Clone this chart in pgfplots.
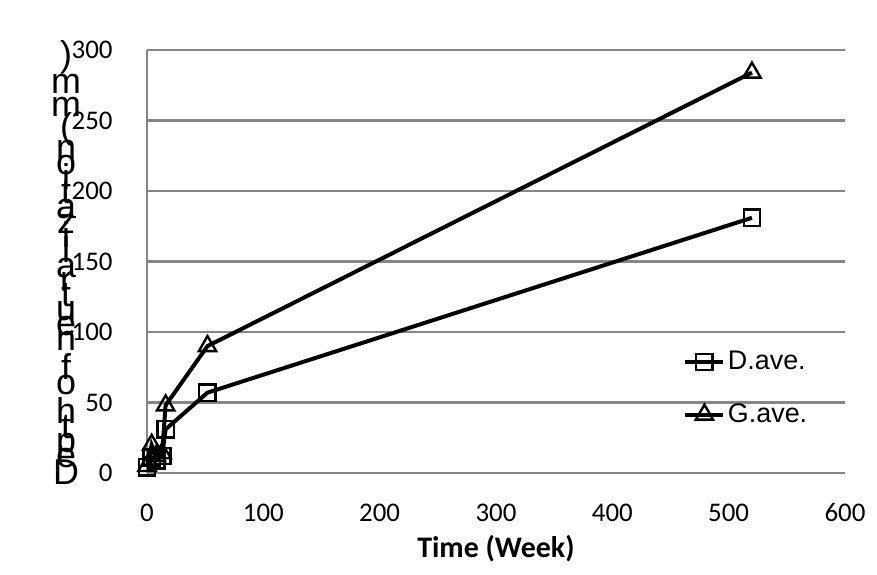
\documentclass[border=0pt]{standalone}
\usepackage{fontspec}
\usepackage{pgfplots}
\pgfplotsset{compat=1.18}
\setmainfont{Liberation Sans}
\newfontfamily\carlito{Carlito}
\definecolor{gridgray}{RGB}{134,134,134}

\begin{document}
\begin{tikzpicture}
\begin{axis}[
    scale only axis,
    width=349bp, height=211.5bp,
    xmin=0, xmax=600, ymin=0, ymax=300,
    xtick={0,100,...,600}, ytick={0,50,...,300},
    axis line style={draw=none},
    ymajorgrids,
    extra x ticks={0},
    extra x tick labels={},
    extra x tick style={grid=major},
    grid style={gridgray, line width=1.3bp},
    major tick length=0pt,
    tick style={draw=none},
    /pgf/number format/assume math mode=true,
    ticklabel style={font=\carlito\fontsize{13.5}{16}\selectfont, inner sep=0pt},
    xticklabel style={anchor=base, yshift=-24bp},
    yticklabel style={anchor=east, xshift=-17bp},
    xlabel={Time (Week)},
    xlabel style={font=\carlito\bfseries\fontsize{15}{18}\selectfont,
        at={(axis description cs:0.5,0)}, anchor=center, yshift=-38bp, inner sep=0pt},
    legend style={at={(rel axis cs:0.768,0.2)}, anchor=west, draw=none, fill=none,
        font=\fontsize{13.5}{16}\selectfont, row sep=13bp, inner sep=0pt,
        nodes={inner sep=1.25bp}},
    legend cell align=left,
    legend image code/.code={\draw[mark repeat=2,mark phase=2,#1]
        plot coordinates {(0bp,0bp)(9.5bp,0bp)(19bp,0bp)};},
    clip=false,
]
\addplot[black, line width=2bp, mark=square, mark size=4.1bp,
    mark options={solid, line width=1.2bp, fill=none}]
    coordinates {(0,4) (4,11) (8,9) (13,12) (16,31) (52,57) (520,181)};
\addlegendentry{D.ave.}
\addplot[black, line width=2bp, mark=triangle, mark size=5bp,
    mark options={solid, line width=1.2bp, fill=none}]
    coordinates {(0,5) (4,20) (8,12) (13,14) (16,48) (52,90) (520,284)};
\addlegendentry{G.ave.}
\end{axis}

% stacked y label, characters upright, read from bottom to top
\begin{scope}[every node/.style={anchor=base, inner sep=0pt, font=\fontsize{18}{20}\selectfont}]
\node at (-40.5bp,203bp) {)};
\node at (-40.5bp,167bp) {(};
\foreach \c/\y in {m/189.5, m/178, n/156.5, o/149.18, i/141.86, t/134.55, a/127.23,
    z/119.91, i/112.59, l/105.27, a/97.95, r/90.64, t/83.32, u/76.0, e/68.68,
    n/61.36, f/46.73, o/39.41, h/24.77, t/17.45, p/10.14, e/2.82, D/-5.5}
    \node at (-40.5bp,\y bp) {\c};
\end{scope}

\pgfresetboundingbox
\useasboundingbox (-73.5bp,-51bp) rectangle (365bp,236.5bp);
\end{tikzpicture}
\end{document}
